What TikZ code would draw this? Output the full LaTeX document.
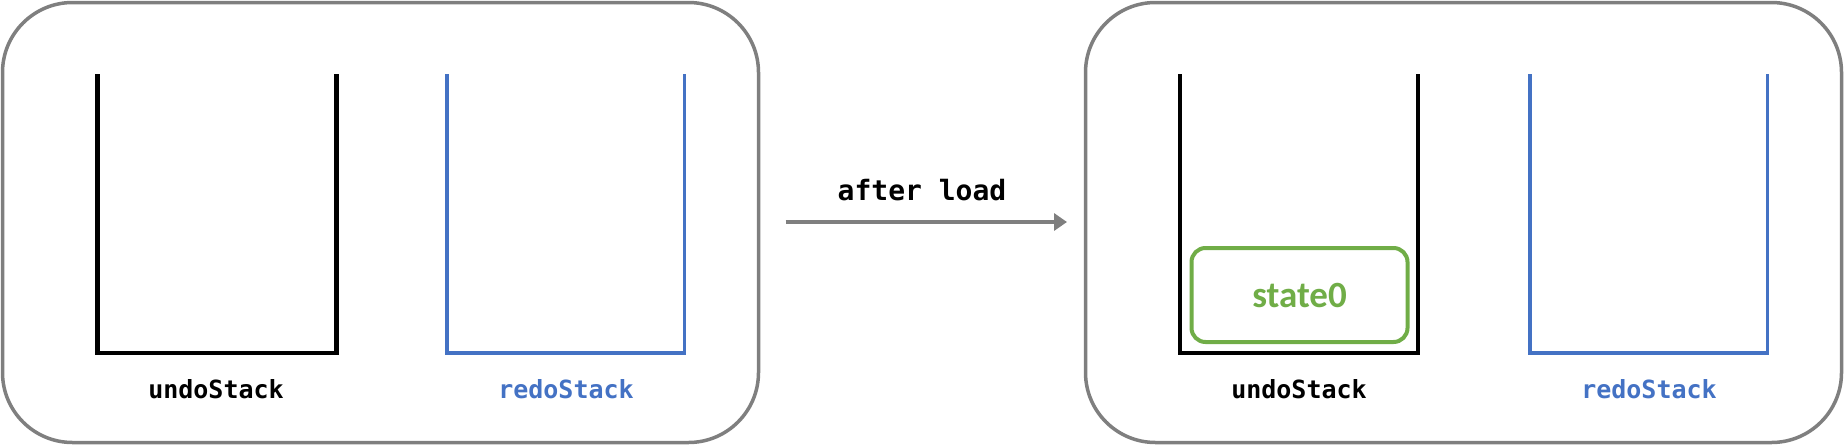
\documentclass[tikz,border=0pt]{standalone}
\usepackage{fontspec}
\newfontfamily\monofont{DejaVu Sans Mono}
\newfontfamily\calfont{Carlito}
\usetikzlibrary{arrows.meta}
\definecolor{framegray}{HTML}{7F7F7F}
\definecolor{stackblue}{HTML}{4472C4}
\definecolor{stategreen}{HTML}{70AD47}
\tikzset{
  panel/.style={draw=framegray, line width=3.5pt, rounded corners=70pt},
  undostk/.style={draw=black, line width=4.4pt, line join=miter},
  redostk/.style={draw=stackblue, line width=3.6pt, line join=miter},
  lbl/.style={font=\monofont\bfseries\fontsize{25}{30}\selectfont, inner sep=0pt, anchor=center},
  statebox/.style={draw=stategreen, line width=4pt, rounded corners=14pt, text=stategreen,
     font=\calfont\bfseries\fontsize{37}{40}\selectfont, minimum width=216pt, minimum height=94pt, inner sep=0pt},
  flow/.style={draw=framegray, line width=3.5pt, -{Triangle[length=13pt,width=17pt]}}
}
\begin{document}
\begin{tikzpicture}[x=1pt,y=-1pt]
\useasboundingbox (0,0) rectangle (1844,445);
% panels
\draw[panel] (2.5,2.5) rectangle (758.5,442.5);
\draw[panel] (1085.5,2.5) rectangle (1841.5,442.5);
% left panel stacks
\draw[undostk] (97.5,74) -- (97.5,353) -- (336.5,353) -- (336.5,74);
\draw[redostk] (447,74) -- (447,353) -- (684.5,353) -- (684.5,74);
\node[lbl] (undoL) at (216,389) {undoStack};
\node[lbl, text=stackblue] (redoL) at (566,389) {redoStack};
% arrow
\coordinate (arS) at (785.5,222);
\coordinate (arE) at (1067,222);
\draw[flow] (arS) -- (arE);
\node[lbl, font=\monofont\bfseries\fontsize{28}{32}\selectfont] (after) at (922,190) {after load};
% right panel stacks
\draw[undostk] (1180,74) -- (1180,353) -- (1418,353) -- (1418,74);
\draw[redostk] (1530,74) -- (1530,353) -- (1767.5,353) -- (1767.5,74);
\node[statebox] (state) at (1299.5,295) {state0};
\node[lbl] (undoR) at (1299,389) {undoStack};
\node[lbl, text=stackblue] (redoR) at (1649,389) {redoStack};
\end{tikzpicture}
\end{document}
